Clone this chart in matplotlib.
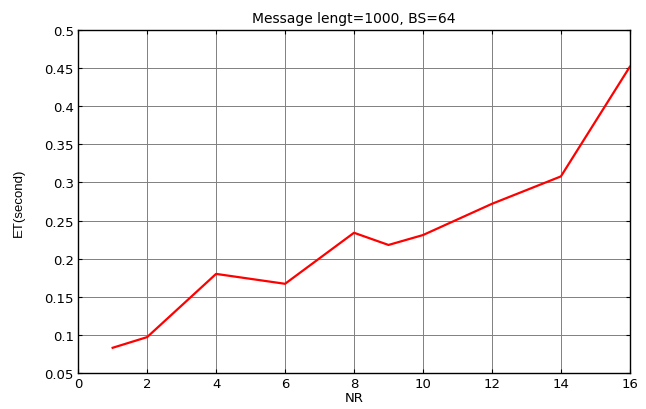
import matplotlib

matplotlib.use("Agg", force=True)

import matplotlib.pyplot as plt

# Encryption time against number of rounds
nr = [1, 2, 4, 6, 8, 9, 10, 12, 14, 16]
et_seconds = [0.083, 0.097, 0.180, 0.167, 0.234, 0.218, 0.231, 0.272, 0.308, 0.452]

x_ticks = list(range(0, 17, 2))
y_ticks = [0.05, 0.1, 0.15, 0.2, 0.25, 0.3, 0.35, 0.4, 0.45, 0.5]
y_labels = ["0.05", "0.1", "0.15", "0.2", "0.25", "0.3", "0.35", "0.4", "0.45", "0.5"]

plt.rcParams["font.family"] = ["DejaVu Sans"]
plt.rcParams["font.size"] = 9.5

fig = plt.figure(figsize=(6.46, 4.10), dpi=100)
ax = fig.add_axes([0.121, 0.088, 0.854, 0.836])

ax.plot(nr, et_seconds, color="red", linewidth=1.6, zorder=3)

ax.set_xlim(0, 16)
ax.set_ylim(0.05, 0.5)
ax.set_xticks(x_ticks)
ax.set_yticks(y_ticks)
ax.set_yticklabels(y_labels)
ax.tick_params(direction="in", top=True, right=True, length=3, width=0.8, pad=3)
ax.grid(True, color="#808080", linestyle="-", linewidth=0.7)
for spine in ax.spines.values():
    spine.set_linewidth(1.0)

ax.set_title("Message lengt=1000, BS=64", fontsize=10, pad=6)
ax.set_xlabel("NR", labelpad=1)
ax.set_ylabel("ET(second)", labelpad=14, family="Liberation Sans", fontsize=9.5)

fig.savefig("out.png", dpi=100)
plt.close(fig)
